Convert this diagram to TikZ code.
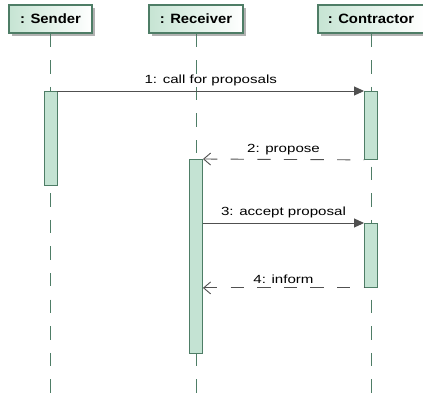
\documentclass[tikz,border=0pt]{standalone}
\usepackage{fontspec}
\usetikzlibrary{arrows.meta,shadows}
\newfontfamily\msgfont[FakeStretch=1.28]{Liberation Sans}
\newfontfamily\hdrfont[FakeStretch=1.1]{Liberation Sans}
\definecolor{barfill}{HTML}{C4E3D3}
\definecolor{barline}{HTML}{4E7D66}
\definecolor{hdrfill}{HTML}{C6E4D3}
\definecolor{msgline}{HTML}{505050}
\begin{document}
\begin{tikzpicture}[x=1pt,y=-1pt,
    hdr/.style={draw=barline,line width=1.2pt,left color=hdrfill,right color=white,
      inner sep=0pt,minimum height=28pt,font=\hdrfont\bfseries\fontsize{13.5}{15}\selectfont,
      drop shadow={shadow xshift=3pt,shadow yshift=-3pt,fill=black!30,opacity=1}},
    life/.style={draw=barline,line width=1pt,dash pattern=on 13.3pt off 13.3pt},
    bar/.style={draw=barline,fill=barfill,line width=0.9pt,minimum width=13pt,inner sep=0pt,anchor=north},
    call/.style={draw=msgline,line width=0.9pt,-{Triangle[length=10pt,width=9pt]}},
    reply/.style={draw=msgline,line width=0.9pt,dash pattern=on 13.3pt off 13.3pt,
      {Straight Barb[length=7pt,width=12pt]}-},
    lbl/.style={above=1pt,font=\msgfont\fontsize{11.8}{13}\selectfont,text=black}]
        \useasboundingbox (0,0) rectangle (423,394);
        \coordinate (bot) at (0,394);
        \node[hdr,minimum width=83pt] (snd) at (50.5,19) {: Sender};
        \node[hdr,minimum width=94pt] (rcv) at (196,19) {: Receiver};
        \node[hdr,minimum width=106pt] (ctr) at (371,19) {: Contractor};
        \draw[life] (snd.south) -- (snd.south |- bot);
        \draw[life] (rcv.south) -- (rcv.south |- bot);
        \draw[life] (ctr.south) -- (ctr.south |- bot);
        \node[bar,minimum height=94pt] (s1) at (50.5,91) {};
        \node[bar,minimum height=68pt] (c1) at (371,91) {};
        \node[bar,minimum height=194pt] (r1) at (196,159) {};
        \node[bar,minimum height=64pt] (c2) at (371,223) {};
        \draw[call] (s1.north east) -- node[lbl]{1: call for proposals} (c1.north west);
        \draw[reply] (r1.north east) -- node[lbl]{2: propose} (c1.south west);
        \draw[call] (r1.east |- c2.north) -- node[lbl]{3: accept proposal} (c2.north west);
        \draw[reply] (r1.east |- c2.south) -- node[lbl]{4: inform} (c2.south west);
      \end{tikzpicture}
\end{document}
